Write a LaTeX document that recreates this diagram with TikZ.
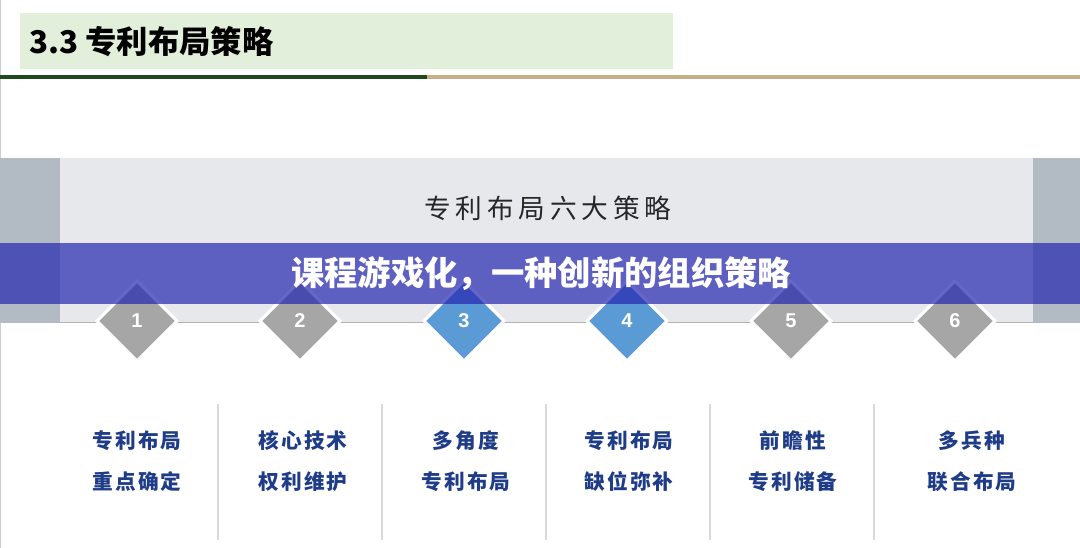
\documentclass[tikz,border=0pt]{standalone}
\usepackage{fontspec}
\setmainfont{Liberation Sans}
\newfontfamily\cjk{Noto Sans CJK SC}
\newfontfamily\cjkwide[LetterSpace=18]{Noto Sans CJK SC}
\newfontfamily\cjktag[LetterSpace=10]{Noto Sans CJK SC}
\newfontfamily\cjkblack{Noto Sans CJK SC Black}
\usetikzlibrary{shapes.geometric}
\definecolor{headgreen}{HTML}{E2EFDA}
\definecolor{darkgreen}{HTML}{1E4A1E}
\definecolor{tanline}{HTML}{C8AE84}
\definecolor{panelgray}{HTML}{E6E8EC}
\definecolor{stripgray}{HTML}{B2BAC4}
\definecolor{bannerblue}{HTML}{2426B0}
\definecolor{stepgray}{HTML}{A6A6A6}
\definecolor{stepblue}{HTML}{5B9BD5}
\definecolor{textblue}{HTML}{1F3C88}

\begin{document}
\begin{tikzpicture}[x=0.75pt,y=-0.75pt,
 gem/.style={diamond,draw=white,line width=2.25pt,minimum width=61pt,minimum height=61pt,inner sep=0pt,
  text=white,font=\bfseries\fontsize{15}{18}\selectfont},
 tag/.style={align=center,text=textblue,font=\cjktag\bfseries\fontsize{15.5}{30.75}\selectfont},
 sepline/.style={draw=black!15,line width=1.1pt}]
\useasboundingbox (0,0) rectangle (1080,548);
\draw[black!20,line width=0.75pt] (0.5,0) -- (0.5,548);
% header
\fill[headgreen] (20,13) rectangle (673,69);
\node[anchor=west,inner sep=0pt,font=\cjk\bfseries\fontsize{23.5}{28}\selectfont] (title) at (29,42) {3.3 专利布局策略};
\fill[darkgreen] (0,75) rectangle (427,79);
\fill[tanline] (427,75) rectangle (1080,79);
% panel
\fill[panelgray] (60,158) rectangle (1033,323);
\fill[stripgray] (0,158) rectangle (60,323);
\fill[stripgray] (1033,158) rectangle (1080,323);
\draw[black!30,line width=0.75pt] (60,323) -- (1033,323);
\node[text=black!85,font=\cjkwide\fontsize{20}{24}\selectfont] (heading) at (548,208) {专利布局六大策略};
% steps
\foreach \x/\n/\c in {137/1/stepgray,300/2/stepgray,464/3/stepblue,627/4/stepblue,791/5/stepgray,955/6/stepgray}
  \node[gem,fill=\c] (d\n) at (\x,321) {\n};
% banner
\fill[bannerblue,opacity=0.7] (0,243) rectangle (1080,304);
\node[text=white,font=\cjkblack\fontsize{25}{30}\selectfont] (banner) at (541,274) {课程游戏化，一种创新的组织策略};
% columns
\foreach \x in {218,382,546,710,874} \draw[sepline] (\x,404) -- (\x,540);
\foreach \x/\n/\t in {137/1/{专利布局\\重点确定},303/2/{核心技术\\权利维护},466/3/{多角度\\专利布局},629/4/{专利布局\\缺位弥补},793/5/{前瞻性\\专利储备},972/6/{多兵种\\联合布局}}
  \node[tag] (t\n) at (\x,461) {\t};
\end{tikzpicture}
\end{document}
